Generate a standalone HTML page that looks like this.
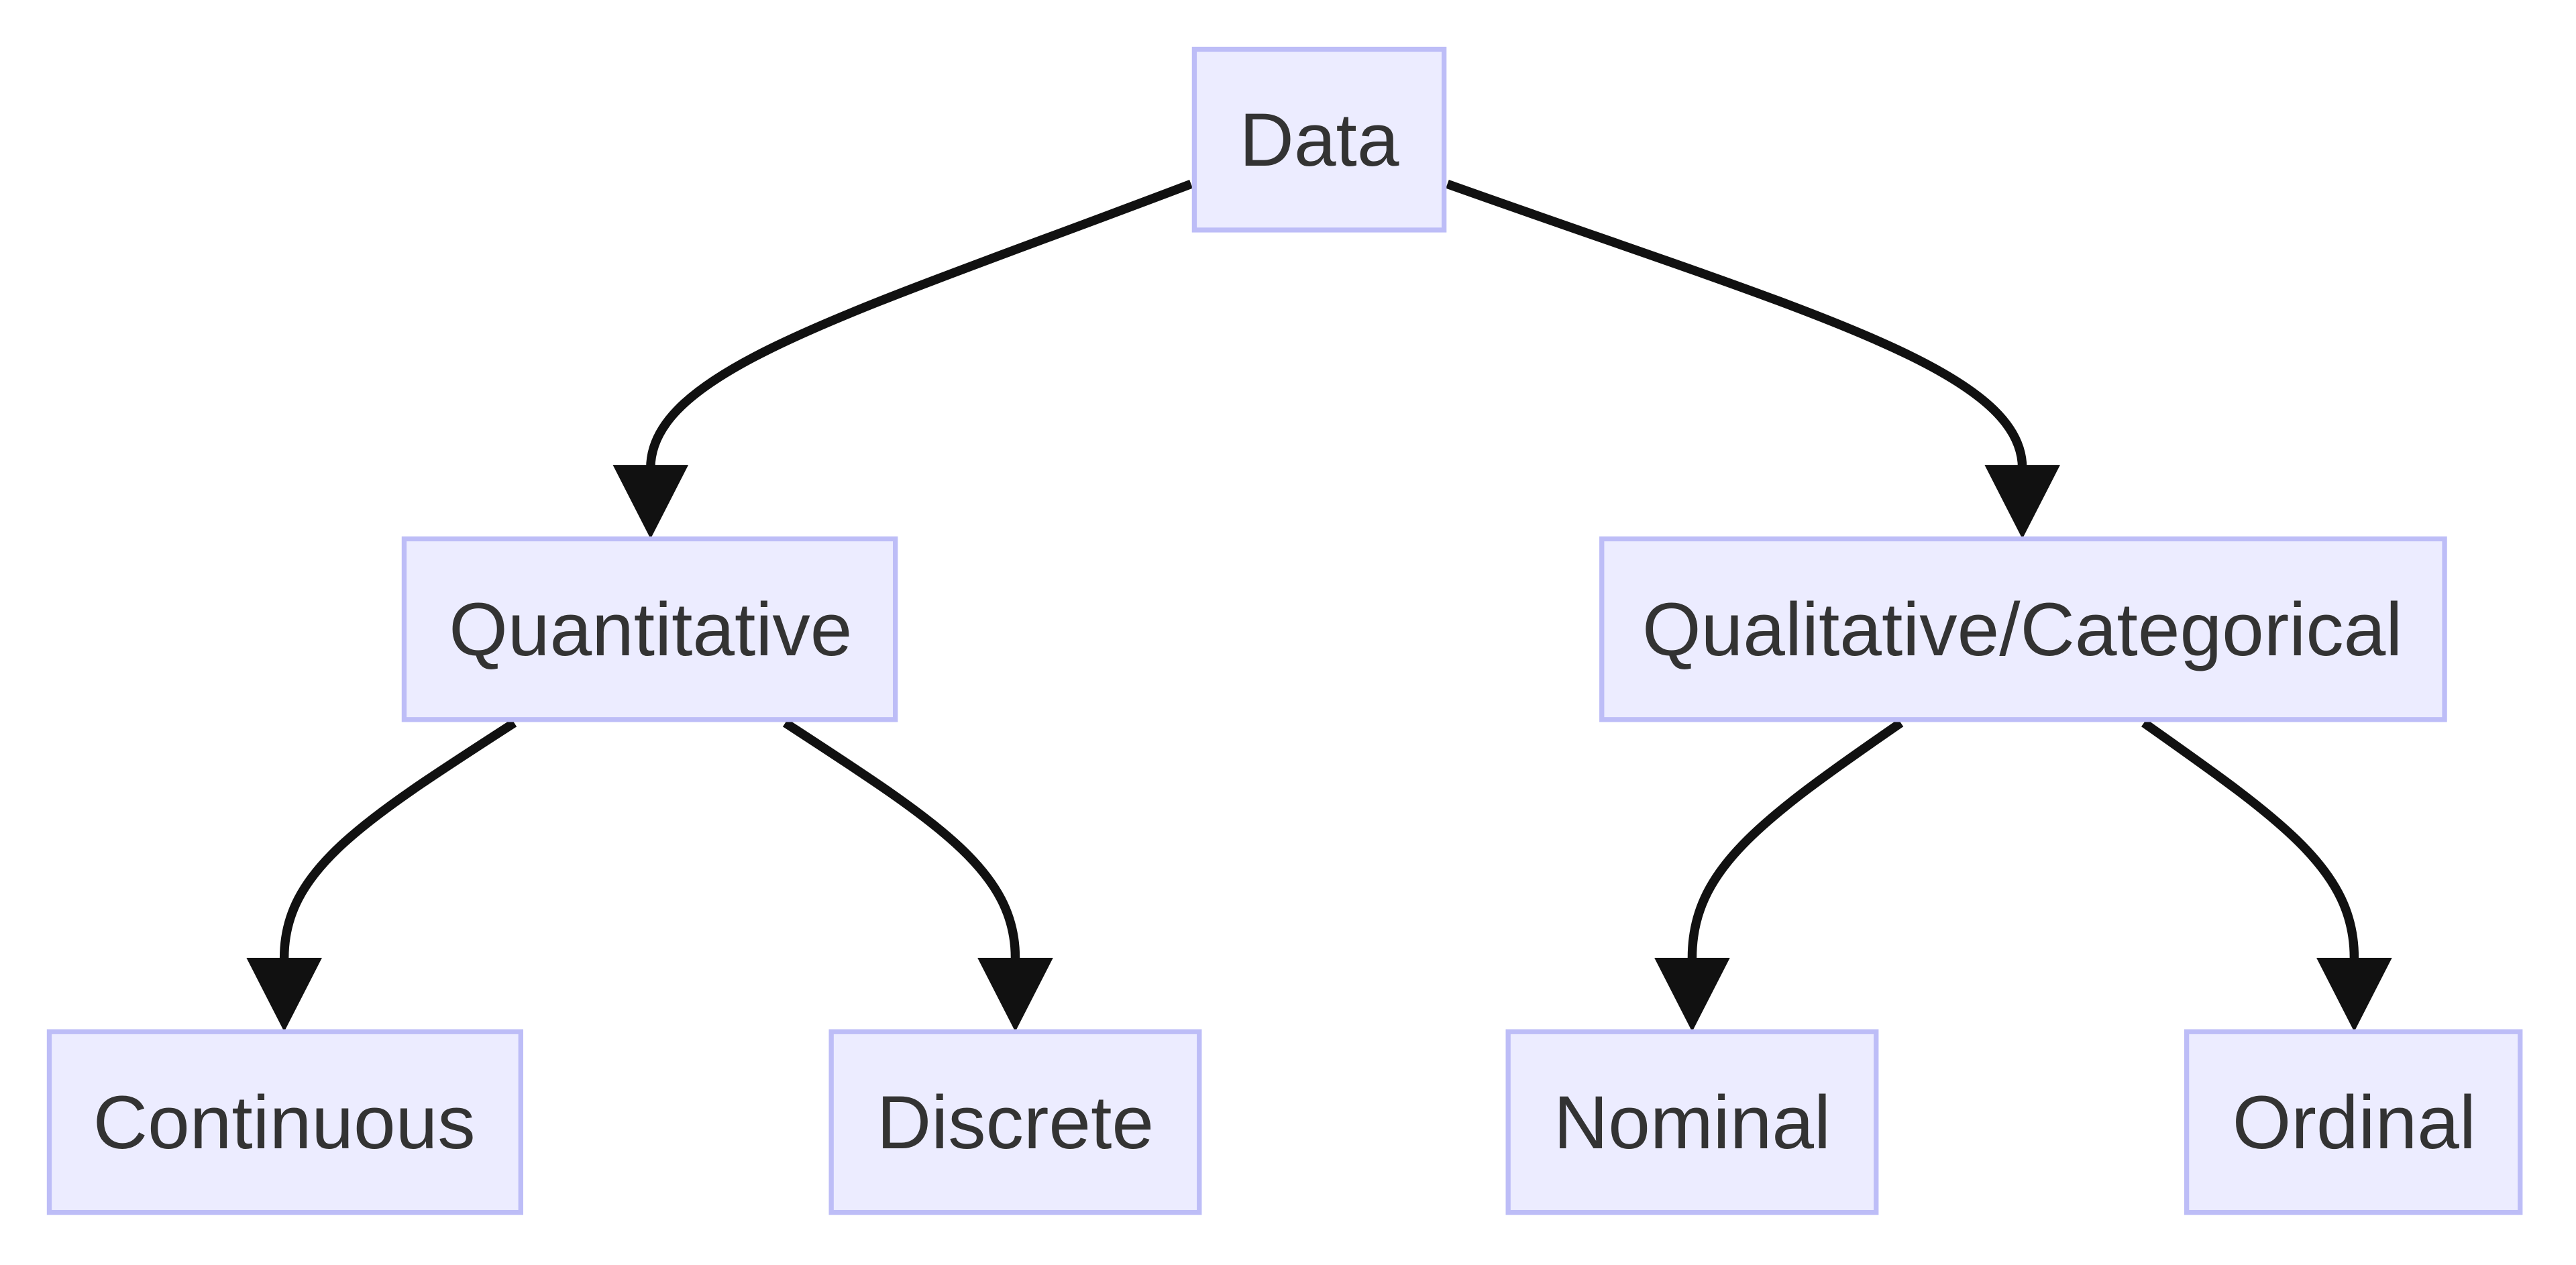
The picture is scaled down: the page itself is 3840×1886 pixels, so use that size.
<!DOCTYPE html>
<html><head><meta charset="utf-8"><style>
html,body{margin:0;padding:0;background:#fff;width:3840px;height:1886px;overflow:hidden}
svg{display:block}
text{font-family:"Liberation Sans",Arial,sans-serif;font-size:46px;fill:#333;text-anchor:middle;dominant-baseline:central}
.n{fill:#ECECFF;stroke:#bdbdf7;stroke-width:3}
.e{fill:none;stroke:#111;stroke-width:5.5}
.a{fill:#111}
</style></head><body>
<svg width="3840" height="1886" viewBox="0 0 1568 770" preserveAspectRatio="none">
<path class="e" d="M725,112 C520,190 396,225 396,285"/>
<path class="e" d="M881,112 C1100,190 1231,225 1231,285"/>
<path class="e" d="M313,440 C220,500 173,530 173,583"/>
<path class="e" d="M478,440 C570,500 618,530 618,583"/>
<path class="e" d="M1157,440 C1070,500 1030,530 1030,583"/>
<path class="e" d="M1305,440 C1390,500 1433,530 1433,583"/>
<polygon class="a" points="373,283 419,283 396,328"/>
<polygon class="a" points="1208,283 1254,283 1231,328"/>
<polygon class="a" points="150,583 196,583 173,628"/>
<polygon class="a" points="595,583 641,583 618,628"/>
<polygon class="a" points="1007,583 1053,583 1030,628"/>
<polygon class="a" points="1410,583 1456,583 1433,628"/>
<rect class="n" x="727" y="30" width="152" height="110"/>
<rect class="n" x="246" y="328" width="299" height="110"/>
<rect class="n" x="975" y="328" width="513" height="110"/>
<rect class="n" x="30" y="628" width="287" height="110"/>
<rect class="n" x="506" y="628" width="224" height="110"/>
<rect class="n" x="918" y="628" width="224" height="110"/>
<rect class="n" x="1331" y="628" width="203" height="110"/>
<text x="803" y="85">Data</text>
<text x="396" y="383">Quantitative</text>
<text x="1231" y="383">Qualitative/Categorical</text>
<text x="173" y="683">Continuous</text>
<text x="618" y="683">Discrete</text>
<text x="1030" y="683">Nominal</text>
<text x="1433" y="683">Ordinal</text>
</svg>
</body></html>
